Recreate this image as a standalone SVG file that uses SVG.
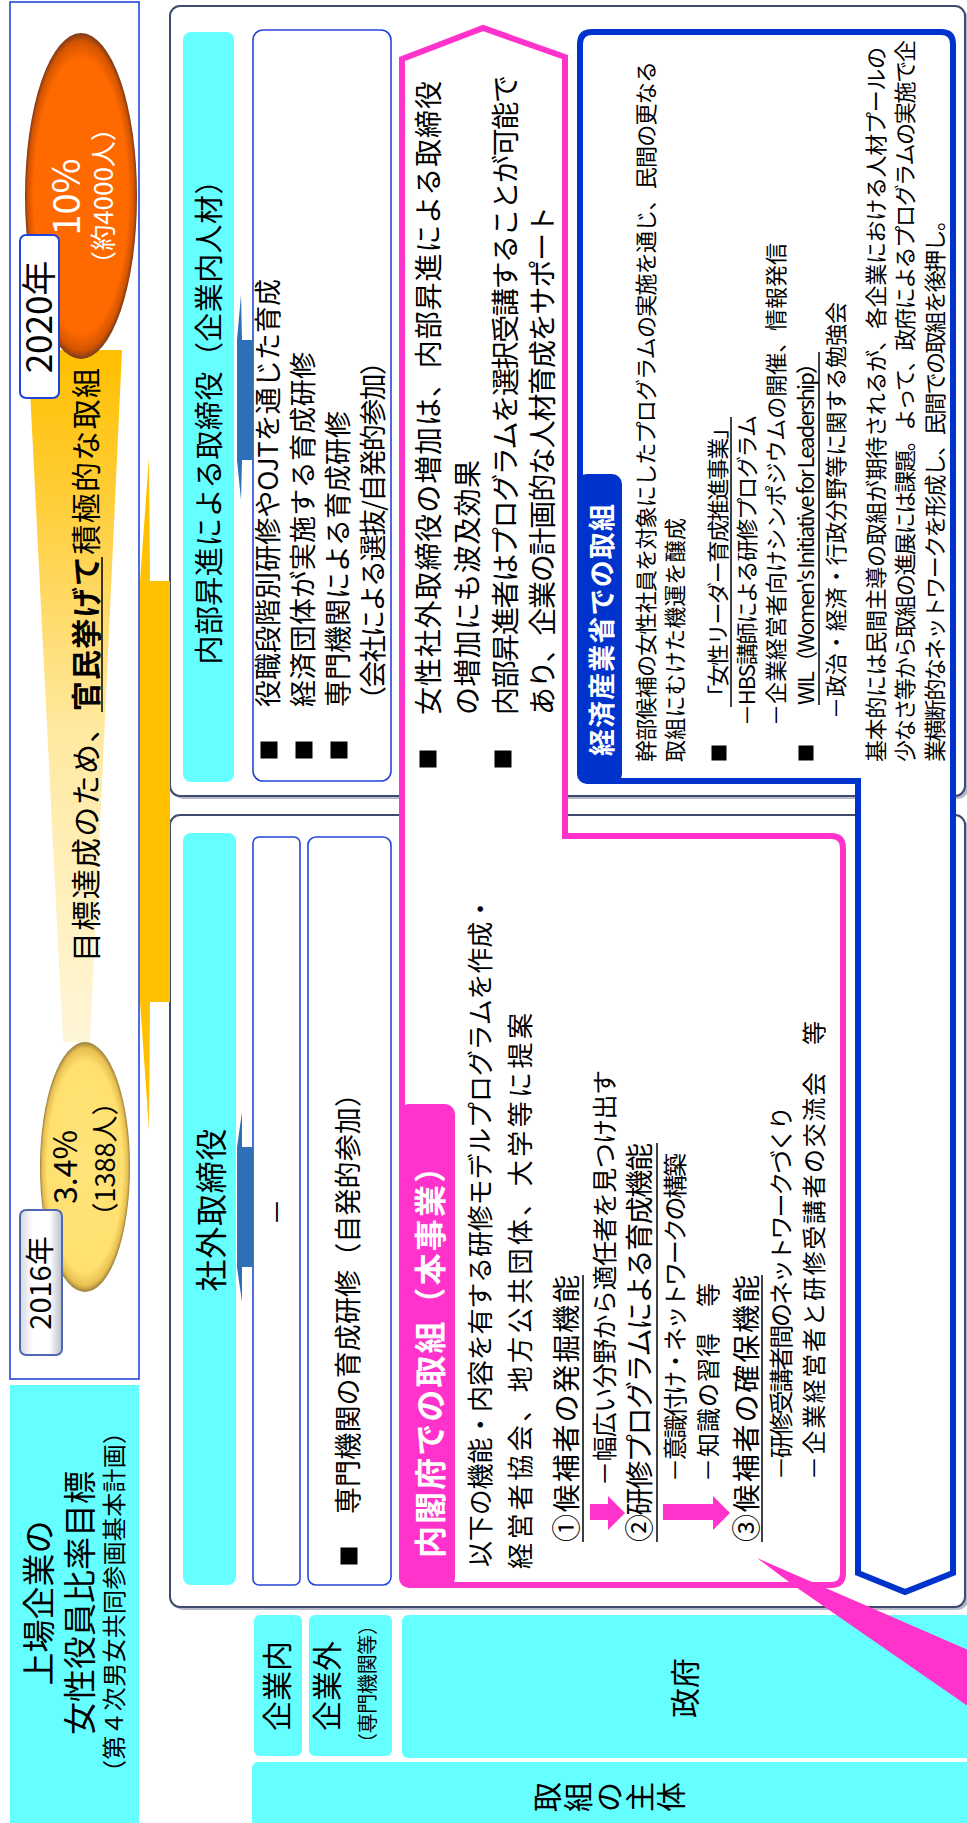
<svg xmlns="http://www.w3.org/2000/svg" width="967" height="1823" viewBox="0 0 967 1823">
<defs>
<style>
text{font-family:"Noto Sans CJK JP","Noto Sans",sans-serif;fill:#000}
.w{fill:#fff}
.bd{font-weight:bold}
.cy{fill:#66ffff}
.panel{fill:#fff;stroke:#3e4a70;stroke-width:2}
.shadow{fill:#b4b9c9}
.wb{fill:#fff;stroke:#2446d8;stroke-width:1.6}
.ul{stroke:#000;stroke-width:1.5}
.pk{fill:#ff33cc}
.barrow{fill:#2e6fb8}
</style>
<linearGradient id="beam" gradientUnits="userSpaceOnUse" x1="781" y1="0" x2="1473" y2="0">
<stop offset="0" stop-color="#fff6d8"/>
<stop offset="0.45" stop-color="#ffe9a0"/>
<stop offset="0.8" stop-color="#ffcc33"/>
<stop offset="1" stop-color="#ffc000"/>
</linearGradient>
<radialGradient id="org" cx="0.5" cy="0.5" r="0.5">
<stop offset="0" stop-color="#ff6a00"/>
<stop offset="0.84" stop-color="#ff6a00"/>
<stop offset="0.95" stop-color="#d45400"/>
<stop offset="1" stop-color="#7a3a18"/>
</radialGradient>
<radialGradient id="yel" cx="0.5" cy="0.5" r="0.5">
<stop offset="0" stop-color="#ffe47a"/>
<stop offset="0.84" stop-color="#ffe070"/>
<stop offset="0.95" stop-color="#e8c050"/>
<stop offset="1" stop-color="#9a8040"/>
</radialGradient>
<linearGradient id="gbox" x1="0" y1="0" x2="0" y2="1">
<stop offset="0" stop-color="#d2d6e0"/>
<stop offset="0.3" stop-color="#ffffff"/>
<stop offset="0.7" stop-color="#ffffff"/>
<stop offset="1" stop-color="#b9bdca"/>
</linearGradient>
</defs>
<rect x="0" y="0" width="967" height="1823" fill="#fff"/>
<g transform="translate(0 1823) rotate(-90)">

<g id="target-label">
<rect class="cy" x="-5" y="10" width="443" height="129"/>
<text x="220" y="51" font-size="33" text-anchor="middle">上場企業の</text>
<text x="220" y="92" font-size="33" text-anchor="middle">女性役員比率目標</text>
<text x="221" y="123" font-size="24" text-anchor="middle" textLength="364">（第４次男女共同参画基本計画）</text>
</g>

<g id="timeline">
<rect x="444" y="10" width="1377" height="129" fill="none" stroke="#2446d8" stroke-width="1.6"/>
<polygon points="781,63 781,90 1473,122 1473,28" fill="url(#beam)"/>
<ellipse cx="656" cy="85" rx="125" ry="45" fill="url(#yel)"/>
<ellipse cx="1627" cy="81" rx="163" ry="56" fill="url(#org)"/>
<text x="656" y="77" font-size="32" text-anchor="middle">3.4%</text>
<text x="664" y="115" font-size="27" text-anchor="middle">（1388人）</text>
<text x="1626" y="80" font-size="38" text-anchor="middle" class="w">10%</text>
<text x="1627" y="113" font-size="26" text-anchor="middle" class="w">（約4000人）</text>
<rect x="468" y="20" width="145" height="42" rx="6" fill="url(#gbox)" stroke="#5068b0" stroke-width="2"/>
<text x="540" y="51" font-size="29" text-anchor="middle">2016年</text>
<rect x="1425" y="20" width="163" height="39" rx="6" fill="#fff" stroke="#1f44d9" stroke-width="2"/>
<text x="1506" y="52" font-size="35" text-anchor="middle">2020年</text>
<text x="861" y="97" font-size="30" textLength="594">目標達成のため、<tspan class="bd">官民挙げて</tspan>積極的な取組</text>
<line class="ul" x1="1111" y1="102" x2="1266" y2="102" stroke-width="2"/>
</g>

<g id="panel-internal">
<rect class="shadow" x="1024" y="173" width="790" height="795" rx="10"/>
<rect class="panel" x="1027" y="170" width="790" height="795" rx="10"/>
<rect class="cy" x="1041" y="183" width="750" height="51" rx="8"/>
<text x="1408" y="220" font-size="29" text-anchor="middle" textLength="499">内部昇進による取締役（企業内人材）</text>
<rect class="wb" x="1042" y="253" width="751" height="138" rx="10"/>
<rect x="1064.5" y="260.5" width="17" height="17"/>
<rect x="1064.5" y="295.5" width="17" height="17"/>
<rect x="1064.5" y="330.5" width="17" height="17"/>
<text x="1116" y="278" font-size="27" textLength="428">役職段階別研修やOJTを通じた育成</text>
<text x="1116" y="313" font-size="27" textLength="355">経済団体が実施する育成研修</text>
<text x="1116" y="348" font-size="27" textLength="296">専門機関による育成研修</text>
<text x="1110" y="383" font-size="27" textLength="365">（会社による選抜/自発的参加）</text>
</g>

<g id="panel-external">
<rect class="shadow" x="213" y="173" width="792" height="795" rx="10"/>
<rect class="panel" x="216" y="170" width="792" height="795" rx="10"/>
<rect class="cy" x="238" y="183" width="752" height="53" rx="8"/>
<text x="613" y="223" font-size="32" text-anchor="middle" textLength="163">社外取締役</text>
<rect class="wb" x="238" y="253" width="748" height="47" rx="6"/>
<text x="611" y="287" font-size="27" text-anchor="middle">－</text>
<rect class="wb" x="238" y="308" width="748" height="83" rx="8"/>
<rect x="258.5" y="340.5" width="17" height="17"/>
<text x="309" y="358" font-size="27" textLength="434">専門機関の育成研修（自発的参加）</text>
</g>

<g id="cabinet-office">
<path d="M 250 402 L 1764 402 L 1795 483 L 1766 565 L 987 565 L 987 831 Q 987 843 975 843 L 250 843 Q 238 843 238 831 L 238 414 Q 238 402 250 402 Z" fill="#fff" stroke="#ff33cc" stroke-width="6"/>
<rect class="pk" x="235" y="399" width="484" height="56" rx="10"/>
<text x="265" y="442" font-size="32" class="w bd" textLength="407">内閣府での取組（本事業）</text>
<rect x="1055.5" y="419.5" width="17" height="17"/>
<text x="1108" y="439" font-size="28" textLength="634">女性社外取締役の増加は、内部昇進による取締役</text>
<text x="1108" y="478" font-size="28" textLength="255">の増加にも波及効果</text>
<rect x="1055.5" y="494.5" width="17" height="17"/>
<text x="1108" y="516" font-size="28" textLength="640">内部昇進者はプログラムを選択受講することが可能で</text>
<text x="1108" y="553" font-size="28" textLength="509">あり、企業の計画的な人材育成をサポート</text>
<text x="256" y="490" font-size="26" textLength="671">以下の機能・内容を有する研修モデルプログラムを作成・</text>
<text x="254" y="530" font-size="26" textLength="556">経営者協会、地方公共団体、大学等に提案</text>
<text x="281" y="577" font-size="28" textLength="267">①候補者の発掘機能</text>
<line class="ul" x1="281" y1="583" x2="548" y2="583"/>
<text x="337" y="614" font-size="25" textLength="416">－幅広い分野から適任者を見つけ出す</text>
<text x="281" y="650" font-size="28" textLength="399">②研修プログラムによる育成機能</text>
<line class="ul" x1="281" y1="657" x2="680" y2="657"/>
<text x="341" y="684" font-size="24" textLength="329">－意識付け・ネットワークの構築</text>
<text x="341" y="717" font-size="24" textLength="199">－知識の習得　等</text>
<text x="281" y="757" font-size="28" textLength="267">③候補者の確保機能</text>
<line class="ul" x1="281" y1="762" x2="548" y2="762"/>
<text x="343" y="790" font-size="24" textLength="374">－研修受講者間のネットワークづくり</text>
<text x="343" y="823" font-size="24" textLength="459">－企業経営者と研修受講者の交流会　等</text>
</g>

<g id="meti">
<path d="M 1042 858 L 1042 592 Q 1042 580 1054 580 L 1779 580 Q 1791 580 1791 592 L 1791 941 Q 1791 953 1779 953 L 250 953 L 231 905 L 250 858 Z" fill="#fff" stroke="#0033cc" stroke-width="6"/>
<rect x="1039" y="577" width="310" height="45" rx="10" fill="#0033cc"/>
<text x="1067" y="612" font-size="27" class="w bd" textLength="252">経済産業省での取組</text>
<text x="1061" y="654" font-size="22" textLength="701">幹部候補の女性社員を対象にしたプログラムの実施を通じ、民間の更なる</text>
<text x="1061" y="683" font-size="22" textLength="244">取組にむけた機運を醸成</text>
<rect x="1062.5" y="711.5" width="15" height="15"/>
<text x="1116" y="726" font-size="22" textLength="290">「女性リーダー育成推進事業」</text>
<line class="ul" x1="1116" y1="731" x2="1406" y2="731"/>
<text x="1097" y="755" font-size="22" textLength="311">－HBS講師による研修プログラム</text>
<text x="1097" y="784" font-size="22" textLength="483">－企業経営者向けシンポジウムの開催、情報発信</text>
<rect x="1062.5" y="798.5" width="15" height="15"/>
<text x="1118" y="814" font-size="22" textLength="353">WIL（Women's Initiative for Leadership）</text>
<line class="ul" x1="1118" y1="819" x2="1471" y2="819"/>
<text x="1104" y="844" font-size="22" textLength="417">－政治・経済・行政分野等に関する勉強会</text>
<text x="1061" y="884" font-size="22" textLength="715">基本的には民間主導の取組が期待されるが、各企業における人材プールの</text>
<text x="1061" y="913" font-size="22" textLength="722">少なさ等から取組の進展には課題。よって、政府によるプログラムの実施で企</text>
<text x="1061" y="943" font-size="22" textLength="553">業横断的なネットワークを形成し、民間での取組を後押し。</text>
</g>

<g id="actor-rows">
<rect class="cy" x="67" y="254" width="141" height="48" rx="6"/>
<text x="137" y="288" font-size="30" text-anchor="middle">企業内</text>
<rect class="cy" x="67" y="309" width="141" height="83" rx="6"/>
<text x="137" y="338" font-size="30" text-anchor="middle">企業外</text>
<text x="139" y="375" font-size="20" text-anchor="middle" textLength="138">（専門機関等）</text>
<rect class="cy" x="65" y="402" width="143" height="580" rx="6"/>
<text x="135" y="696" font-size="30" text-anchor="middle">政府</text>
<rect class="cy" x="-10" y="252" width="71" height="730" rx="6"/>
<text font-size="30" text-anchor="middle"><tspan x="26" y="558">取</tspan><tspan x="26" y="589">組</tspan><tspan x="26" y="620">の</tspan><tspan x="26" y="651">主</tspan><tspan x="26" y="682">体</tspan></text>
</g>

<g id="connectors">
<polygon points="1366,149 1242,150 1242,170 821,170 821,150 693,149 821,140 1242,140" fill="#ffc000"/>
<polygon class="barrow" points="1528,241 1483,242 1483,253 1363,253 1363,242 1323,241 1363,237 1483,237"/>
<polygon class="barrow" points="711,242 676,242 676,253 556,253 556,242 521,242 556,237 676,237"/>
<rect class="pk" x="303" y="590" width="16" height="18"/>
<polygon class="pk" points="293,608 327,608 310,625"/>
<rect class="pk" x="303" y="663" width="16" height="50"/>
<polygon class="pk" points="293,713 327,713 310,730"/>
<polygon class="pk" points="265,757 170,975 112,975 238,793"/>
</g>

</g>
</svg>
